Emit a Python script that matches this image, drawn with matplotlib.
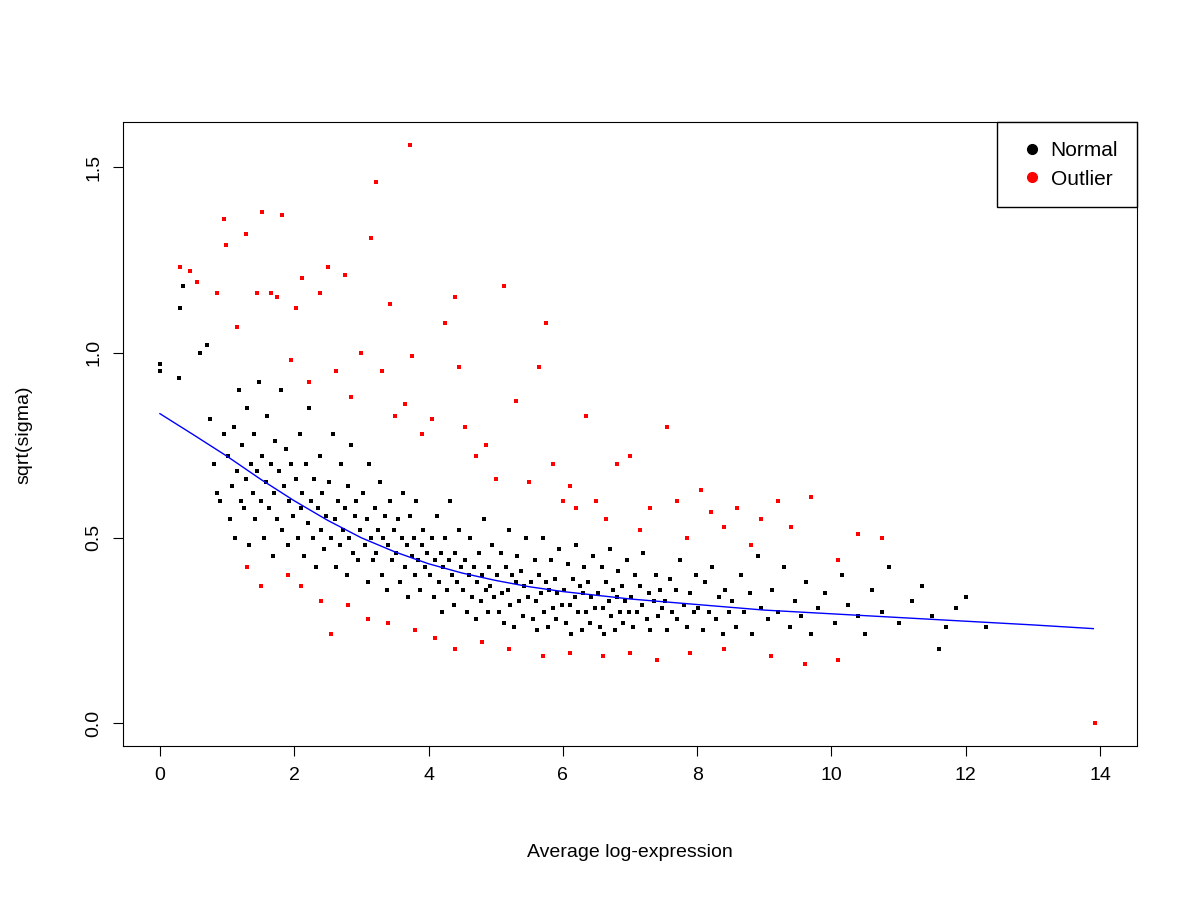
import matplotlib
matplotlib.use("Agg")
import matplotlib.pyplot as plt
from matplotlib.lines import Line2D

plt.rcParams['font.family'] = ['Liberation Sans', 'DejaVu Sans']

normal_pts = [
    (0.0, 0.95), (0.0, 0.97), (0.28, 0.93), (0.3, 1.12), (0.35, 1.18), (0.6, 1.0), (0.7, 1.02),
    (0.75, 0.82), (0.8, 0.7), (0.85, 0.62), (0.9, 0.6), (0.95, 0.78),
    (1.02, 0.72), (1.05, 0.55), (1.08, 0.64), (1.1, 0.8), (1.12, 0.5), (1.15, 0.68), (1.18, 0.9),
    (1.2, 0.6), (1.22, 0.75), (1.25, 0.58), (1.28, 0.66), (1.3, 0.85), (1.32, 0.48), (1.35, 0.7),
    (1.38, 0.62), (1.4, 0.78), (1.42, 0.55), (1.45, 0.68), (1.48, 0.92), (1.5, 0.6),
    (1.52, 0.72), (1.55, 0.5), (1.58, 0.65), (1.6, 0.83), (1.62, 0.58), (1.65, 0.7), (1.68, 0.45),
    (1.7, 0.62), (1.72, 0.76), (1.75, 0.55), (1.78, 0.68), (1.8, 0.9), (1.82, 0.52), (1.85, 0.64),
    (1.88, 0.74), (1.9, 0.48), (1.92, 0.6), (1.95, 0.7), (1.98, 0.56),
    (2.02, 0.66), (2.05, 0.5), (2.08, 0.78), (2.1, 0.58), (2.12, 0.62), (2.15, 0.45), (2.18, 0.7),
    (2.2, 0.54), (2.22, 0.85), (2.25, 0.6), (2.28, 0.5), (2.3, 0.66), (2.32, 0.42), (2.35, 0.58),
    (2.38, 0.72), (2.4, 0.52), (2.42, 0.62), (2.45, 0.47), (2.48, 0.56),
    (2.52, 0.65), (2.55, 0.5), (2.58, 0.78), (2.6, 0.55), (2.62, 0.42), (2.65, 0.6), (2.68, 0.48),
    (2.7, 0.7), (2.72, 0.52), (2.75, 0.58), (2.78, 0.4), (2.8, 0.64), (2.82, 0.5), (2.85, 0.75),
    (2.88, 0.46), (2.9, 0.56), (2.92, 0.6), (2.95, 0.44), (2.98, 0.52),
    (3.02, 0.62), (3.05, 0.48), (3.08, 0.55), (3.1, 0.38), (3.12, 0.7), (3.15, 0.5), (3.18, 0.44),
    (3.2, 0.58), (3.22, 0.46), (3.25, 0.52), (3.28, 0.65), (3.3, 0.4), (3.32, 0.5), (3.35, 0.56),
    (3.38, 0.36), (3.4, 0.48), (3.42, 0.6), (3.45, 0.44), (3.48, 0.52),
    (3.52, 0.46), (3.55, 0.55), (3.58, 0.38), (3.6, 0.5), (3.62, 0.62), (3.65, 0.42), (3.68, 0.48),
    (3.7, 0.34), (3.72, 0.56), (3.75, 0.45), (3.78, 0.5), (3.8, 0.4), (3.82, 0.6), (3.85, 0.44),
    (3.88, 0.36), (3.9, 0.48), (3.92, 0.52), (3.95, 0.42), (3.98, 0.46),
    (4.02, 0.4), (4.05, 0.5), (4.08, 0.34), (4.1, 0.44), (4.12, 0.56), (4.15, 0.38), (4.18, 0.46),
    (4.2, 0.3), (4.22, 0.42), (4.25, 0.5), (4.28, 0.36), (4.3, 0.44), (4.32, 0.6), (4.35, 0.4),
    (4.38, 0.32), (4.4, 0.46), (4.42, 0.38), (4.45, 0.52), (4.48, 0.42),
    (4.52, 0.36), (4.55, 0.44), (4.58, 0.3), (4.6, 0.4), (4.62, 0.5), (4.65, 0.34), (4.68, 0.42),
    (4.7, 0.28), (4.72, 0.38), (4.75, 0.46), (4.78, 0.33), (4.8, 0.4), (4.82, 0.55), (4.85, 0.36),
    (4.88, 0.3), (4.9, 0.42), (4.92, 0.37), (4.95, 0.48), (4.98, 0.34),
    (5.02, 0.4), (5.05, 0.3), (5.08, 0.46), (5.1, 0.35), (5.12, 0.27), (5.15, 0.42), (5.18, 0.36),
    (5.2, 0.52), (5.22, 0.32), (5.25, 0.4), (5.28, 0.26), (5.3, 0.38), (5.32, 0.45), (5.35, 0.33),
    (5.38, 0.41), (5.4, 0.29), (5.42, 0.37), (5.45, 0.5), (5.48, 0.34),
    (5.52, 0.38), (5.55, 0.28), (5.58, 0.44), (5.6, 0.33), (5.62, 0.25), (5.65, 0.4), (5.68, 0.35),
    (5.7, 0.5), (5.72, 0.3), (5.75, 0.38), (5.78, 0.26), (5.8, 0.36), (5.82, 0.44), (5.85, 0.31),
    (5.88, 0.39), (5.9, 0.28), (5.92, 0.35), (5.95, 0.47), (5.98, 0.32),
    (6.02, 0.36), (6.05, 0.27), (6.08, 0.43), (6.1, 0.32), (6.12, 0.24), (6.15, 0.39), (6.18, 0.34),
    (6.2, 0.48), (6.22, 0.3), (6.25, 0.37), (6.28, 0.25), (6.3, 0.35), (6.32, 0.42), (6.35, 0.3),
    (6.38, 0.38), (6.4, 0.27), (6.42, 0.34), (6.45, 0.45), (6.48, 0.31),
    (6.52, 0.35), (6.55, 0.26), (6.58, 0.42), (6.6, 0.31), (6.62, 0.24), (6.65, 0.38), (6.68, 0.33),
    (6.7, 0.47), (6.72, 0.29), (6.75, 0.36), (6.78, 0.25), (6.8, 0.34), (6.82, 0.41), (6.85, 0.3),
    (6.88, 0.37), (6.9, 0.27), (6.92, 0.33), (6.95, 0.44), (6.98, 0.3),
    (7.02, 0.34), (7.05, 0.26), (7.08, 0.4), (7.1, 0.3), (7.15, 0.37), (7.18, 0.32), (7.2, 0.46),
    (7.25, 0.28), (7.28, 0.35), (7.3, 0.25), (7.35, 0.33), (7.38, 0.4), (7.42, 0.29), (7.45, 0.36),
    (7.48, 0.31),
    (7.52, 0.33), (7.55, 0.25), (7.6, 0.39), (7.62, 0.3), (7.68, 0.36), (7.7, 0.28), (7.75, 0.44),
    (7.8, 0.32), (7.85, 0.26), (7.9, 0.35), (7.95, 0.3), (7.98, 0.4),
    (8.02, 0.31), (8.08, 0.25), (8.12, 0.38), (8.18, 0.3), (8.22, 0.42), (8.28, 0.28), (8.32, 0.34),
    (8.38, 0.24), (8.42, 0.36), (8.48, 0.3),
    (8.52, 0.33), (8.58, 0.26), (8.65, 0.4), (8.7, 0.3), (8.78, 0.35), (8.82, 0.24), (8.9, 0.45),
    (8.95, 0.31),
    (9.05, 0.28), (9.12, 0.36), (9.2, 0.3), (9.3, 0.42), (9.38, 0.26), (9.45, 0.33), (9.55, 0.29),
    (9.62, 0.38), (9.7, 0.24), (9.8, 0.31), (9.9, 0.35),
    (10.05, 0.27), (10.15, 0.4), (10.25, 0.32), (10.4, 0.29), (10.5, 0.24), (10.6, 0.36),
    (10.75, 0.3), (10.85, 0.42), (11.0, 0.27), (11.2, 0.33), (11.35, 0.37), (11.5, 0.29),
    (11.6, 0.2), (11.7, 0.26), (11.85, 0.31), (12.0, 0.34), (12.3, 0.26),
]

outlier_pts = [
    (0.3, 1.23), (0.45, 1.22), (0.55, 1.19), (0.85, 1.16), (0.95, 1.36), (0.98, 1.29), (1.15, 1.07),
    (1.28, 1.32), (1.45, 1.16), (1.52, 1.38), (1.65, 1.16), (1.75, 1.15), (1.82, 1.37), (1.95, 0.98),
    (2.02, 1.12), (2.12, 1.2), (2.22, 0.92), (2.38, 1.16), (2.5, 1.23), (2.62, 0.95), (2.75, 1.21),
    (2.85, 0.88), (3.0, 1.0), (3.15, 1.31), (3.22, 1.46), (3.3, 0.95), (3.42, 1.13), (3.5, 0.83),
    (3.65, 0.86), (3.72, 1.56), (3.75, 0.99), (3.9, 0.78), (4.05, 0.82), (4.25, 1.08), (4.4, 1.15),
    (4.45, 0.96), (4.55, 0.8), (4.7, 0.72), (4.85, 0.75), (5.0, 0.66), (5.12, 1.18), (5.3, 0.87),
    (5.5, 0.65), (5.65, 0.96), (5.75, 1.08), (5.85, 0.7), (6.0, 0.6), (6.1, 0.64), (6.2, 0.58),
    (6.35, 0.83), (6.5, 0.6), (6.65, 0.55), (6.8, 0.7), (7.0, 0.72), (7.15, 0.52), (7.3, 0.58),
    (7.55, 0.8), (7.7, 0.6), (7.85, 0.5), (8.05, 0.63), (8.2, 0.57), (8.4, 0.53), (8.6, 0.58),
    (8.8, 0.48), (8.95, 0.55), (9.2, 0.6), (9.4, 0.53), (9.7, 0.61), (10.1, 0.44), (10.4, 0.51),
    (10.75, 0.5),
    (1.3, 0.42), (1.5, 0.37), (1.9, 0.4), (2.1, 0.37), (2.4, 0.33), (2.55, 0.24), (2.8, 0.32),
    (3.1, 0.28), (3.4, 0.27), (3.8, 0.25), (4.1, 0.23), (4.4, 0.2), (4.8, 0.22), (5.2, 0.2),
    (5.7, 0.18), (6.1, 0.19), (6.6, 0.18), (7.0, 0.19), (7.4, 0.17), (7.9, 0.19), (8.4, 0.2),
    (9.1, 0.18), (9.6, 0.16), (10.1, 0.17), (13.93, 0.0),
]

trend_x = [0, 0.5, 1, 1.5, 2, 2.5, 3, 3.5, 4, 4.5, 5, 5.5, 6, 7, 8, 9, 10, 11, 12, 13, 13.9]
trend_y = [0.835, 0.778, 0.72, 0.658, 0.6, 0.547, 0.5, 0.462, 0.43, 0.405, 0.385, 0.368,
           0.355, 0.335, 0.32, 0.305, 0.295, 0.285, 0.275, 0.265, 0.255]

fig = plt.figure(figsize=(12, 9), dpi=100)
ax = fig.add_axes([0.1025, 0.171, 0.845, 0.693])

nx, ny = zip(*normal_pts)
ox, oy = zip(*outlier_pts)
ax.scatter(nx, ny, s=9, marker='s', color='black', linewidths=0)
ax.scatter(ox, oy, s=9, marker='s', color='red', linewidths=0)
ax.plot(trend_x, trend_y, color='blue', lw=1)

ax.set_xlim(-0.55, 14.55)
ax.set_ylim(-0.062, 1.621)
ax.set_xticks(range(0, 15, 2))
ax.set_yticks([0.0, 0.5, 1.0, 1.5])
ax.set_yticklabels(['0.0', '0.5', '1.0', '1.5'], rotation=90, va='center')
ax.tick_params(labelsize=14, length=7, direction='out', pad=8)
ax.set_xlabel('Average log-expression', fontsize=14, labelpad=43)
ax.set_ylabel('sqrt(sigma)', fontsize=14, labelpad=38)

handles = [Line2D([], [], marker='o', ls='', color='black', markersize=7),
           Line2D([], [], marker='o', ls='', color='red', markersize=7)]
leg = ax.legend(handles, ['Normal', 'Outlier'], loc='upper right', fontsize=15,
                fancybox=False, edgecolor='black', framealpha=1, borderaxespad=0,
                handletextpad=0.1, borderpad=0.9, labelspacing=0.45, handlelength=1.6)
leg.get_frame().set_linewidth(1)

fig.savefig('out.png')
